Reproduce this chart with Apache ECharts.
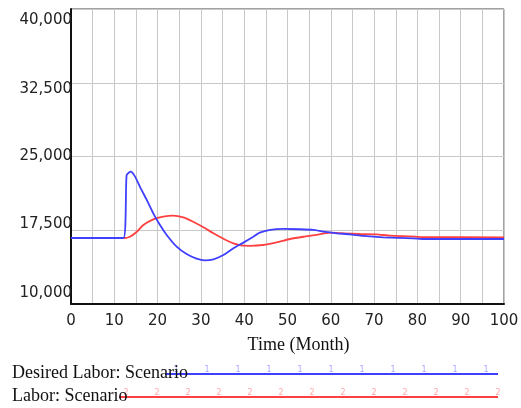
<!DOCTYPE html>
<html>
<head>
<meta charset="utf-8">
<script src="https://cdn.jsdelivr.net/npm/echarts@6/dist/echarts.min.js"></script>
<style>
  html, body { margin: 0; padding: 0; background: #fff; }
  #chart { width: 521px; height: 408px; }
</style>
</head>
<body>
<div id="chart"></div>
<script>
// Simulation output: workforce (people) over time (months)
const desiredLaborTime = [0, 12.1, 12.85, 13.8, 14.8, 15.9, 17.5, 19.0, 20.55, 22.1, 24.4, 26.7, 29.0, 30.9, 32.9, 35.2, 37.5, 39.8, 42.1, 43.6, 46, 49, 52.9, 56, 58.3, 61.4, 64.4, 67.5, 72.1, 79, 81.4, 100];
const desiredLaborValue = [16710, 16710, 23120, 23455, 22950, 21930, 20580, 19220, 18030, 17020, 15830, 15080, 14610, 14440, 14540, 14980, 15660, 16240, 16840, 17250, 17530, 17630, 17600, 17530, 17350, 17190, 17090, 16920, 16780, 16680, 16610, 16610];

const laborTime = [0, 12.3, 13.6, 15.2, 16.7, 19.0, 21.3, 23.6, 25.9, 28.2, 30.6, 32.9, 35.2, 37.5, 39.8, 41.3, 44.4, 47.5, 50.6, 53.7, 56.7, 59.8, 62.9, 66.7, 70.6, 73.7, 78.3, 81.4, 100];
const laborValue = [16710, 16710, 16840, 17350, 18030, 18610, 18880, 18980, 18810, 18370, 17800, 17190, 16640, 16170, 15930, 15920, 16000, 16270, 16610, 16840, 17020, 17250, 17190, 17120, 17090, 16950, 16880, 16810, 16780];

const seriesNames = ['Desired Labor: Scenario', 'Labor: Scenario'];
const seriesColors = ['#3f3fff', '#ff4040'];
const seriesMarkColors = ['#a8a8ff', '#ffa8a8'];
const xAxisName = 'Time (Month)';
const yTicks = [10000, 17500, 25000, 32500, 40000];

const zip = (ts, vs) => ts.map((t, i) => [t, vs[i]]);
const serif = '"Liberation Serif", "DejaVu Serif", serif';
const sans = '"DejaVu Sans", sans-serif';

// Tick labels on the value axis sit on an evenly spaced, slightly tighter ladder
// than the grid lines; each one gets its own vertical nudge.
const labelNudge = [11, 6, 0, -6, -11]; // px, positive = move up
const rich = {};
yTicks.forEach((v, i) => {
  const n = labelNudge[i];
  rich['t' + i] = {
    fontFamily: sans, fontSize: 15, color: '#222',
    padding: n >= 0 ? [0, 0, 2 * n, 0] : [-2 * n, 0, 0, 0]
  };
});

// Key lines at the bottom: name, a sample stroke and the faint series numbers along it.
function keyRow(idx, lineStart, y, firstMark) {
  const els = [
    { type: 'line', shape: { x1: lineStart, y1: y, x2: 498, y2: y }, style: { stroke: seriesColors[idx], lineWidth: 2 } },
    { type: 'text', left: 12, top: y - 10, z: 10, style: { text: seriesNames[idx], font: '18px ' + serif, fill: '#111' } }
  ];
  for (let x = firstMark; x <= 500; x += 31) {
    els.push({ type: 'text', x: x, y: y - 8, style: { text: String(idx + 1), font: '8px ' + sans, fill: seriesMarkColors[idx], align: 'center' } });
  }
  return els;
}

const chart = echarts.init(document.getElementById('chart'));
chart.setOption({
  animation: false,
  backgroundColor: '#fff',
  grid: {
    left: 71, top: 9, right: 17, bottom: 104,
    containLabel: false, outerBoundsMode: 'none',
    show: true, borderColor: '#444', borderWidth: 1
  },
  xAxis: {
    type: 'value', min: 0, max: 100, interval: 10,
    name: xAxisName, nameLocation: 'middle', nameGap: 32,
    nameTextStyle: { fontFamily: serif, fontSize: 18, color: '#111', padding: [0, 0, 0, 22] },
    axisLine: { show: true, lineStyle: { color: '#111', width: 2 } },
    axisTick: { show: false },
    axisLabel: { fontFamily: sans, fontSize: 15, color: '#222', margin: 10 },
    splitLine: { show: true, lineStyle: { color: '#c8c8c8', width: 1 } },
    minorTick: { show: false, splitNumber: 2 },
    minorSplitLine: { show: true, lineStyle: { color: '#c8c8c8', width: 1 } }
  },
  yAxis: {
    type: 'value', min: yTicks[0], max: yTicks[yTicks.length - 1], interval: yTicks[1] - yTicks[0],
    axisLine: { show: true, lineStyle: { color: '#111', width: 2 } },
    axisTick: { show: false },
    axisLabel: {
      margin: -1,
      formatter: v => '{t' + yTicks.indexOf(v) + '|' + v.toLocaleString('en-US') + '}',
      rich: rich
    },
    splitLine: { show: true, lineStyle: { color: '#c8c8c8', width: 1 } }
  },
  series: [
    {
      name: seriesNames[0], type: 'line', data: zip(desiredLaborTime, desiredLaborValue),
      showSymbol: false, smooth: 0.2,
      lineStyle: { color: seriesColors[0], width: 1.8 }, z: 3
    },
    {
      name: seriesNames[1], type: 'line', data: zip(laborTime, laborValue),
      showSymbol: false, smooth: 0.2,
      lineStyle: { color: seriesColors[1], width: 1.8 }, z: 2
    }
  ],
  graphic: [].concat(keyRow(0, 165, 374, 176), keyRow(1, 119, 397, 126))
});
</script>
</body>
</html>
